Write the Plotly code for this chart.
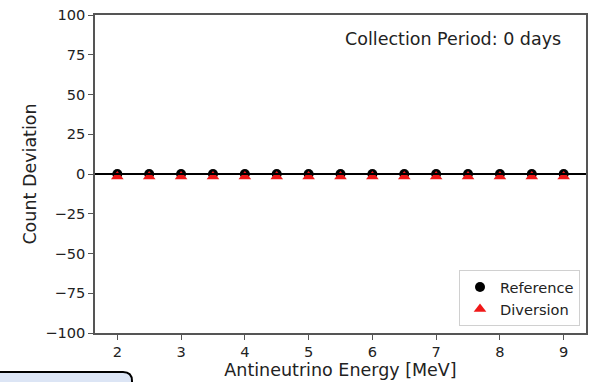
import plotly.graph_objects as go

energy = [2.0, 2.5, 3.0, 3.5, 4.0, 4.5, 5.0, 5.5, 6.0, 6.5, 7.0, 7.5, 8.0, 8.5, 9.0]
reference_dev = [0, 0, 0, 0, 0, 0, 0, 0, 0, 0, 0, 0, 0, 0, 0]
diversion_dev = [0, 0, 0, 0, 0, 0, 0, 0, 0, 0, 0, 0, 0, 0, 0]
x_ticks = [2, 3, 4, 5, 6, 7, 8, 9]
y_ticks = [-100, -75, -50, -25, 0, 25, 50, 75, 100]
y_tick_labels = ["\u2212100", "\u221275", "\u221250", "\u221225", "0", "25", "50", "75", "100"]

FONT = "DejaVu Sans"
W, H = 594, 382
ML, MR, MT, MB = 95, 8, 15, 49
PW, PH = W - ML - MR, H - MT - MB

def px(x):
    return (x - ML) / PW

def py(y):
    return (H - MB - y) / PH

# matplotlib centres '^' on its bounding box; plotly on its centroid.
# a hidden twin axis shifted by a few pixels compensates for that.
tri_shift_units = 2.5 * 200 / PH

fig = go.Figure()
fig.add_trace(go.Scatter(
    x=energy, y=reference_dev, mode="markers", name="Reference",
    marker=dict(symbol="circle", size=10, color="black"),
))
fig.add_trace(go.Scatter(
    x=energy, y=diversion_dev, mode="markers", name="Diversion", yaxis="y2",
    marker=dict(symbol="triangle-up", size=11, color="#f01818"),
))

# horizontal zero line
fig.add_shape(type="line", xref="paper", yref="y", x0=0, x1=1, y0=0, y1=0,
              line=dict(color="black", width=2), layer="above")

# cropped rounded box at bottom left
x0, x1 = px(-5), px(132)
yt, yb = py(372), py(395)
r = 9
path = (f"M {x0} {yb} L {x0} {yt} L {px(132 - r)} {yt} "
        f"Q {x1} {yt} {x1} {py(372 + r)} L {x1} {yb} Z")
fig.add_shape(type="path", xref="paper", yref="paper", path=path,
              fillcolor="#dce5f5", line=dict(color="black", width=2), layer="above")

fig.add_annotation(text="Collection Period: 0 days", xref="paper", yref="paper",
                   x=px(563), y=py(39), xanchor="right", yanchor="middle",
                   showarrow=False, font=dict(family=FONT, size=17.5, color="#222"))

axis_common = dict(showgrid=False, zeroline=False, showline=True, mirror=True,
                   linecolor="#555", linewidth=1.5, ticks="outside", ticklen=5,
                   tickwidth=1.2, tickcolor="#555",
                   tickfont=dict(family=FONT, size=14.6, color="#222"))

fig.update_xaxes(range=[1.65, 9.35], tickvals=x_ticks,
                 title=dict(text="Antineutrino Energy [MeV]", font=dict(family=FONT, size=17.5, color="#222"), standoff=2),
                 **axis_common)
fig.update_yaxes(range=[-100, 100], tickvals=y_ticks, ticktext=y_tick_labels,
                 title=dict(text="Count Deviation", font=dict(family=FONT, size=17.5, color="#222"), standoff=4),
                 **axis_common)

fig.update_layout(
    width=W, height=H,
    margin=dict(l=ML, r=MR, t=MT, b=MB, autoexpand=False),
    plot_bgcolor="white", paper_bgcolor="white",
    showlegend=True,
    yaxis2=dict(overlaying="y", range=[-100 + tri_shift_units, 100 + tri_shift_units],
                visible=False, showgrid=False, zeroline=False),
    legend=dict(x=px(580), y=py(326), xanchor="right", yanchor="bottom",
                bgcolor="white", bordercolor="#d0d0d0", borderwidth=1,
                font=dict(family=FONT, size=14.6, color="#222"),
                itemwidth=30, tracegroupgap=0),
)

fig.write_html("out.html", config={"displayModeBar": False},
               post_script="document.body.style.margin='0';document.body.style.padding='0';")
